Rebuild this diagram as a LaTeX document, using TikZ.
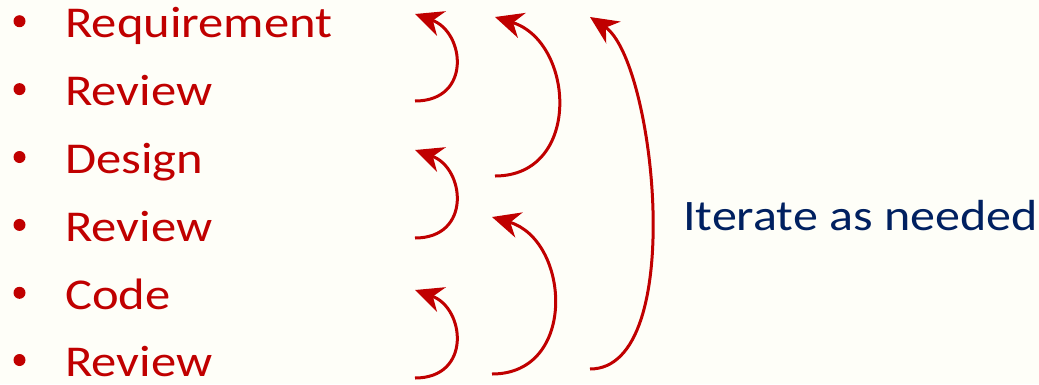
\documentclass[tikz,border=0pt]{standalone}
\usepackage{fontspec}
\setmainfont{Carlito}[FakeStretch=1.15]
\usetikzlibrary{arrows.meta}
\definecolor{bgc}{HTML}{FEFEF8}
\definecolor{redc}{HTML}{C00000}
\definecolor{bluec}{HTML}{002060}
\tikzset{
  item/.style={anchor=base west, inner sep=0pt, text=redc, font=\fontsize{44}{48}\selectfont},
  bul/.style={circle, fill=redc, inner sep=0pt, minimum size=12pt},
  loop/.style={draw=redc, line width=3pt, -{Stealth[length=28pt,width=26pt,inset=9pt]}},
  note/.style={anchor=base west, inner sep=0pt, text=bluec, font=\fontsize{43.5}{48}\selectfont}
}
\begin{document}
\begin{tikzpicture}[x=1pt,y=-1pt]
\fill[bgc] (0,0) rectangle (1039,384);
\useasboundingbox (0,0) rectangle (1039,384);
% list
\foreach \i/\t/\y in {1/Requirement/37.7, 2/Review/105.6, 3/Design/173.5, 4/Review/241.4, 5/Code/309.3, 6/Review/376.5}{
  \node[bul] (b\i) at (19.5,\y-16.5) {};
  \node[item] (t\i) at (65,\y) {\t};
}
\node[note] (iter) at (683,230) {Iterate as needed};
% arc end points
\coordinate (s1a) at (415,101); \coordinate (s1b) at (415,14);
\coordinate (s2a) at (415,238); \coordinate (s2b) at (415,150);
\coordinate (s3a) at (415,378); \coordinate (s3b) at (415,290);
\coordinate (m1a) at (495,176); \coordinate (m1b) at (495,17);
\coordinate (m2a) at (492,374); \coordinate (m2b) at (492,217);
\coordinate (la) at (590,369);  \coordinate (lb) at (590,17);
\draw[loop] (s1a) .. controls +(57,0) and +(50,18) .. (s1b);
\draw[loop] (s2a) .. controls +(57,0) and +(50,18) .. (s2b);
\draw[loop] (s3a) .. controls +(57,0) and +(50,18) .. (s3b);
\draw[loop] (m1a) .. controls +(87,0) and +(80,25) .. (m1b);
\draw[loop] (m2a) .. controls +(86,0) and +(78,23) .. (m2b);
\draw[loop] (la) .. controls +(98,0) and +(65,43) .. (lb);
\end{tikzpicture}
\end{document}
